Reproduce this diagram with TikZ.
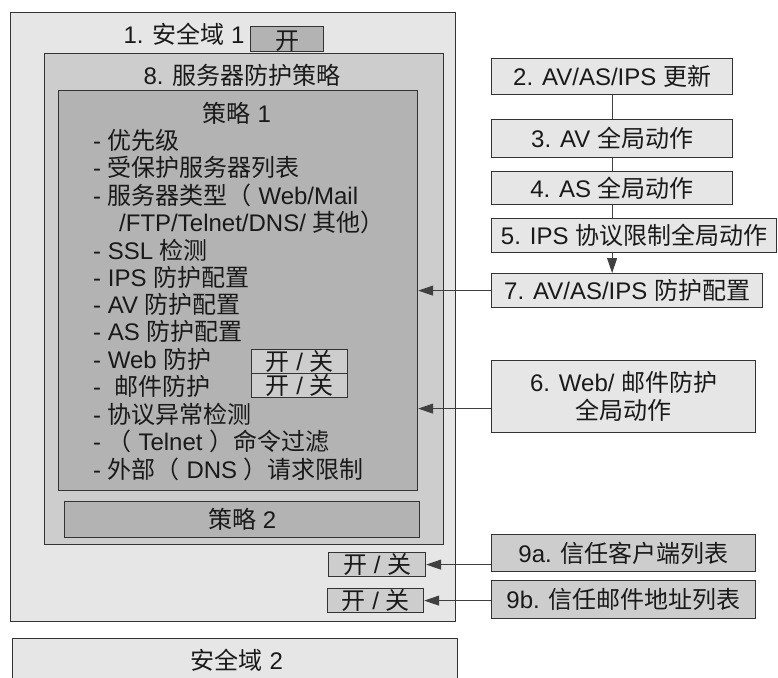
\documentclass[tikz,border=0pt]{standalone}
\usepackage{fontspec}
\setmainfont{Liberation Sans}
\newfontfamily\cjk{Noto Sans CJK SC}
\newcommand{\zh}[1]{{\cjk #1}}
\usetikzlibrary{arrows.meta}
\definecolor{lightbg}{HTML}{E6E6E6}
\definecolor{midbg}{HTML}{CDCDCD}
\definecolor{darkbg}{HTML}{B3B3B3}
\definecolor{edge}{HTML}{333333}
\tikzset{
  every node/.style={font=\fontsize{24}{28}\selectfont, text=black!90},
  frame/.style={draw=edge, line width=1.2pt, inner sep=0pt, anchor=north west},
  item/.style={anchor=west, inner sep=0pt},
  arr/.style={line width=0.9pt, draw=black!75, -{Triangle[length=15pt,width=10pt]}},
}
\begin{document}
\begin{tikzpicture}[x=1pt, y=-1pt]
  \useasboundingbox (0,0) rectangle (778,677);
  % security zone 1
  \node[frame, fill=lightbg, minimum width=445pt, minimum height=609pt] (dom1) at (10,12) {};
  \node (dom1t) at (184,34) {1. \zh{安全域} 1};
  \node[frame, fill=darkbg, minimum width=73pt, minimum height=25pt] (on1) at (250,26) {};
  \node at ([yshift=-2pt]on1.center) {\zh{开}};
  % server protection policy
  \node[frame, fill=midbg, minimum width=399pt, minimum height=491pt] (srv) at (44,53) {};
  \node (srvt) at (242,75) {8. \zh{服务器防护策略}};
  \node[frame, fill=darkbg, minimum width=359pt, minimum height=400pt] (pol1) at (58,90) {};
  \node (pol1t) at (237,113) {\zh{策略} 1};
  \node[item] (i1) at (93,140) {- \zh{优先级}};
  \node[item] (i2) at (93,167.5) {- \zh{受保护服务器列表}};
  \node[item] (i3) at (93,195) {- \zh{服务器类型（} Web/Mail};
  \node[item] (i4) at (119,222) {/FTP/Telnet/DNS/ \zh{其他）}};
  \node[item] (i5) at (93,250) {- SSL \zh{检测}};
  \node[item] (i6) at (93,277) {- IPS \zh{防护配置}};
  \node[item] (i7) at (93,304) {- AV \zh{防护配置}};
  \node[item] (i8) at (93,331) {- AS \zh{防护配置}};
  \node[item] (i9) at (93,359) {- Web \zh{防护}};
  \node[item] (i10) at (93,386) {-\ \ \zh{邮件防护}};
  \node[item] (i11) at (93,414) {- \zh{协议异常检测}};
  \node[item] (i12) at (93,441) {- \zh{（} Telnet \zh{）命令过滤}};
  \node[item] (i13) at (93,469) {- \zh{外部（} DNS \zh{）请求限制}};
  \node[frame, fill=midbg, minimum width=96pt, minimum height=24pt] (swweb) at (251,349) {};
  \node at (swweb.center) {\zh{开} / \zh{关}};
  \node[frame, fill=midbg, minimum width=96pt, minimum height=24pt] (swmail) at (251,373) {};
  \node at (swmail.center) {\zh{开} / \zh{关}};
  \node[frame, fill=darkbg, minimum width=355pt, minimum height=36pt] (pol2) at (64,501) {};
  \node at (pol2.center) {\zh{策略} 2};
  % trust list switches
  \node[frame, fill=midbg, minimum width=97pt, minimum height=24pt] (swa) at (328,552) {};
  \node at (swa.center) {\zh{开} / \zh{关}};
  \node[frame, fill=midbg, minimum width=96pt, minimum height=24pt] (swb) at (327,588) {};
  \node at (swb.center) {\zh{开} / \zh{关}};
  % security zone 2
  \node[frame, fill=lightbg, minimum width=445pt, minimum height=80pt] (dom2) at (12,638) {};
  \node (dom2t) at (237,660) {\zh{安全域} 2};
  % global settings
  \node[frame, fill=lightbg, minimum width=241pt, minimum height=36pt] (upd) at (491,58) {};
  \node at (upd.center) {2. AV/AS/IPS \zh{更新}};
  \node[frame, fill=lightbg, minimum width=241pt, minimum height=38pt] (avg) at (491,119) {};
  \node at (avg.center) {3. AV \zh{全局动作}};
  \node[frame, fill=lightbg, minimum width=241pt, minimum height=33pt] (asg) at (491,171) {};
  \node at (asg.center) {4. AS \zh{全局动作}};
  \node[frame, fill=lightbg, minimum width=285pt, minimum height=34pt] (ipsg) at (491,218) {};
  \node at (ipsg.center) {5. IPS \zh{协议限制全局动作}};
  \node[frame, fill=lightbg, minimum width=271pt, minimum height=34pt] (prof) at (491,273) {};
  \node at (prof.center) {7. AV/AS/IPS \zh{防护配置}};
  \node[frame, fill=lightbg, minimum width=264pt, minimum height=72pt] (webg) at (491,360) {};
  \node[align=center] at (webg.center) {6. Web/ \zh{邮件防护}\\ \zh{全局动作}};
  \node[frame, fill=midbg, minimum width=264pt, minimum height=37pt] (tcli) at (491,534) {};
  \node at (tcli.center) {9a. \zh{信任客户端列表}};
  \node[frame, fill=midbg, minimum width=264pt, minimum height=38pt] (tmail) at (491,580) {};
  \node at (tmail.center) {9b. \zh{信任邮件地址列表}};
  % connectors
  \draw[line width=0.9pt, draw=black!75] (upd.south) -- (avg.north);
  \draw[line width=0.9pt, draw=black!75] (avg.south) -- (asg.north);
  \draw[line width=0.9pt, draw=black!75] (asg.south) -- (asg.south |- ipsg.north);
  \draw[arr] (asg.south |- ipsg.south) -- (asg.south |- prof.north);
  \draw[arr] (prof.west) -- (prof.west -| pol1.east);
  \draw[arr] ([yshift=-12pt]webg.west) -- ([yshift=-12pt]webg.west -| pol1.east);
  \draw[arr] (tcli.west |- swa.east) -- (swa.east);
  \draw[arr] (tmail.west |- swb.east) -- (swb.east);
\end{tikzpicture}
\end{document}
